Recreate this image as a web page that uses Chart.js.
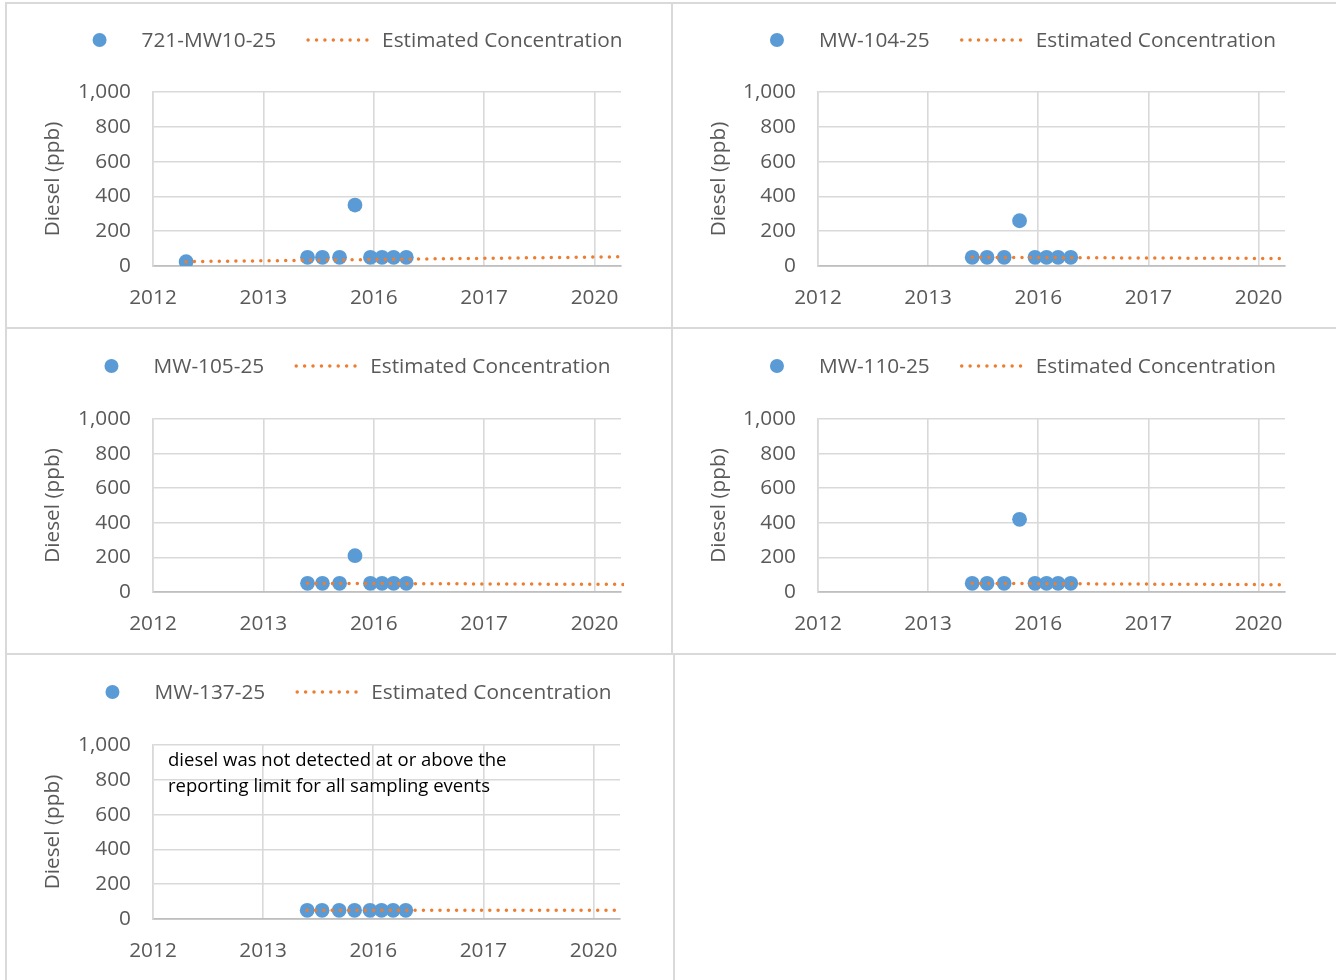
<!DOCTYPE html>
<html>
<head>
<meta charset="utf-8">
<script src="https://cdn.jsdelivr.net/npm/chart.js@4.4.1/dist/chart.umd.min.js"></script>
<style>
  html, body { margin: 0; padding: 0; background: #ffffff; }
  #page { position: relative; width: 1336px; height: 980px; overflow: hidden; background: #ffffff; }
  .rule { position: absolute; background: #D9D9D9; }
  .panel { position: absolute; }
  .panel canvas { display: block; }
</style>
</head>
<body>
<div id="page">
  <!-- panel frame lines -->
  <div class="rule" style="left:5px;top:2px;width:1331px;height:2px"></div>
  <div class="rule" style="left:5px;top:2px;width:2px;height:978px"></div>
  <div class="rule" style="left:671px;top:2px;width:2px;height:653px"></div>
  <div class="rule" style="left:5px;top:327px;width:1331px;height:2px"></div>
  <div class="rule" style="left:5px;top:653px;width:1331px;height:2px"></div>
  <div class="rule" style="left:673px;top:653px;width:2px;height:327px"></div>

  <div class="panel" style="left:7px;top:4px;width:664px;height:323px"><canvas id="c1"></canvas></div>
  <div class="panel" style="left:673px;top:4px;width:663px;height:323px"><canvas id="c2"></canvas></div>
  <div class="panel" style="left:7px;top:330px;width:664px;height:323px"><canvas id="c3"></canvas></div>
  <div class="panel" style="left:673px;top:330px;width:663px;height:323px"><canvas id="c4"></canvas></div>
  <div class="panel" style="left:7px;top:656px;width:666px;height:324px"><canvas id="c5"></canvas></div>
</div>

<script>
// Axis labels
const xTickLabels = ['2012', '2013', '2016', '2017', '2020'];
const yAxisTitle = 'Diesel (ppb)';
const estimateLabel = 'Estimated Concentration';
const wellNames = ['721-MW10-25', 'MW-104-25', 'MW-105-25', 'MW-110-25', 'MW-137-25'];

// Sampling event positions along the time axis (in major-gridline units)
const mw10EventX = [0.30, 1.40, 1.535, 1.69, 1.83, 1.97, 2.075, 2.18, 2.295];
const eventX = [1.40, 1.535, 1.69, 1.83, 1.97, 2.075, 2.18, 2.295];

// Measured diesel (ppb)
const mw10Diesel  = [25, 50, 50, 50, 350, 50, 50, 50, 50];
const mw104Diesel = [50, 50, 50, 260, 50, 50, 50, 50];
const mw105Diesel = [50, 50, 50, 210, 50, 50, 50, 50];
const mw110Diesel = [50, 50, 50, 420, 50, 50, 50, 50];
const mw137Diesel = [50, 50, 50, 50, 50, 50, 50, 50];

// Estimated concentration trend (start / end)
const mw10EstimateX  = [0.30, 4.26];
const mw10Estimate   = [25, 53];
const eventEstimateX = [1.40, 4.26];
const mw104Estimate  = [50, 43];
const mw105Estimate  = [50, 44];
const mw110Estimate  = [50, 42];
const mw137Estimate  = [50, 50];

const noDetectNote = [
  'diesel was not detected at or above the',
  'reporting limit for all sampling events'
];

const FONT = "'Open Sans', 'Noto Sans', sans-serif";
const TEXT_GREY = '#595959';
const BLUE = '#5B9BD5';
const ORANGE = '#ED7D31';
const GRID = '#D9D9D9';
const LABEL_SIZE = 20.8;

Chart.defaults.font.family = FONT;
Chart.defaults.color = TEXT_GREY;

// Legend across the top: a dot for the samples, a dotted line for the estimate
const wellLegend = {
  id: 'wellLegend',
  afterDraw(chart, args, opts) {
    const ctx = chart.ctx;
    ctx.save();
    ctx.font = opts.fontSize + 'px ' + FONT;
    const items = chart.data.datasets.map(ds => ({
      label: ds.label,
      isLine: !!ds.showLine,
      color: ds.isEstimate ? ORANGE : BLUE
    }));
    const widths = items.map(it => opts.symbolWidth + opts.symbolGap + ctx.measureText(it.label).width);
    const total = widths.reduce((a, b) => a + b, 0) + opts.itemGap * (items.length - 1);
    let x = chart.width / 2 + opts.shift - total / 2;
    const y = opts.y;
    items.forEach((it, i) => {
      if (it.isLine) {
        ctx.strokeStyle = it.color;
        ctx.lineWidth = 3.5;
        ctx.lineCap = 'round';
        ctx.setLineDash([0, 8.4]);
        ctx.beginPath();
        ctx.moveTo(x + 2, y);
        ctx.lineTo(x + opts.symbolWidth, y);
        ctx.stroke();
        ctx.setLineDash([]);
      } else {
        ctx.fillStyle = it.color;
        ctx.beginPath();
        ctx.arc(x + opts.symbolWidth / 2, y, 7, 0, Math.PI * 2);
        ctx.fill();
      }
      ctx.fillStyle = TEXT_GREY;
      ctx.textAlign = 'left';
      ctx.textBaseline = 'middle';
      ctx.fillText(it.label, x + opts.symbolWidth + opts.symbolGap, y + 1);
      x += widths[i] + opts.itemGap;
    });
    ctx.restore();
  }
};

// Free text note inside the plot area
const plotNote = {
  id: 'plotNote',
  afterDatasetsDraw(chart, args, opts) {
    if (!opts.lines || !opts.lines.length) return;
    const ctx = chart.ctx;
    const area = chart.chartArea;
    ctx.save();
    ctx.font = opts.fontSize + 'px ' + FONT;
    ctx.fillStyle = '#000000';
    ctx.textAlign = 'left';
    ctx.textBaseline = 'middle';
    opts.lines.forEach((line, i) => {
      ctx.fillText(line, area.left + opts.dx, area.top + opts.dy + i * opts.lineGap);
    });
    ctx.restore();
  }
};

function makeChart(id, name, xs, ys, estX, estY, frame, note) {
  const samples = xs.map((x, i) => ({ x: x, y: ys[i] }));
  const estimate = estX.map((x, i) => ({ x: x, y: estY[i] }));
  return new Chart(document.getElementById(id), {
    type: 'scatter',
    data: {
      datasets: [
        {
          label: name,
          data: samples,
          order: 1,
          pointRadius: 7.4,
          pointHoverRadius: 7.4,
          pointBackgroundColor: BLUE,
          pointBorderWidth: 0,
          showLine: false
        },
        {
          label: estimateLabel,
          isEstimate: true,
          data: estimate,
          order: 0,
          showLine: true,
          pointRadius: 0,
          pointHoverRadius: 0,
          borderColor: ORANGE,
          borderWidth: 3.5,
          borderDash: [0, 8.3],
          borderCapStyle: 'round',
          tension: 0,
          clip: 3
        }
      ]
    },
    options: {
      responsive: true,
      maintainAspectRatio: false,
      devicePixelRatio: 1,
      animation: false,
      events: [],
      layout: { padding: { left: 0, top: frame.top, right: frame.right, bottom: 0 } },
      plugins: {
        legend: { display: false },
        tooltip: { enabled: false },
        wellLegend: { y: 36, fontSize: LABEL_SIZE, symbolWidth: 68, symbolGap: 8, itemGap: 30, shift: 5 },
        plotNote: { lines: note || [], fontSize: 18.5, dx: 15, dy: 16, lineGap: 26 }
      },
      scales: {
        x: {
          type: 'linear',
          min: 0,
          max: 4.24,
          afterFit(scale) { scale.height = frame.xHeight; },
          grid: { color: GRID, lineWidth: 1.6, drawTicks: false },
          border: { color: '#BFBFBF', width: 1.8 },
          ticks: {
            stepSize: 1,
            includeBounds: false,
            autoSkip: false,
            maxRotation: 0,
            padding: 20,
            color: TEXT_GREY,
            font: { size: LABEL_SIZE },
            callback: v => (Number.isInteger(v) ? xTickLabels[v] : '')
          }
        },
        y: {
          min: 0,
          max: 1000,
          afterFit(scale) { scale.width = frame.yWidth; },
          grid: { color: GRID, lineWidth: 1.6, drawTicks: false },
          border: { color: GRID, width: 1.6 },
          ticks: {
            stepSize: 200,
            padding: 22,
            color: TEXT_GREY,
            font: { size: LABEL_SIZE },
            callback: v => v.toLocaleString('en-US')
          },
          title: {
            display: true,
            text: yAxisTitle,
            color: TEXT_GREY,
            font: { size: LABEL_SIZE },
            padding: { top: 34, bottom: 0 }
          }
        }
      }
    },
    plugins: [wellLegend, plotNote]
  });
}

makeChart('c1', wellNames[0], mw10EventX, mw10Diesel, mw10EstimateX, mw10Estimate,
  { yWidth: 146, right: 50, top: 88, xHeight: 61 });
makeChart('c2', wellNames[1], eventX, mw104Diesel, eventEstimateX, mw104Estimate,
  { yWidth: 145, right: 51, top: 88, xHeight: 61 });
makeChart('c3', wellNames[2], eventX, mw105Diesel, eventEstimateX, mw105Estimate,
  { yWidth: 146, right: 50, top: 89, xHeight: 61 });
makeChart('c4', wellNames[3], eventX, mw110Diesel, eventEstimateX, mw110Estimate,
  { yWidth: 145, right: 51, top: 89, xHeight: 61 });
makeChart('c5', wellNames[4], eventX, mw137Diesel, eventEstimateX, mw137Estimate,
  { yWidth: 146, right: 53, top: 89, xHeight: 61 }, noDetectNote);
</script>
</body>
</html>
